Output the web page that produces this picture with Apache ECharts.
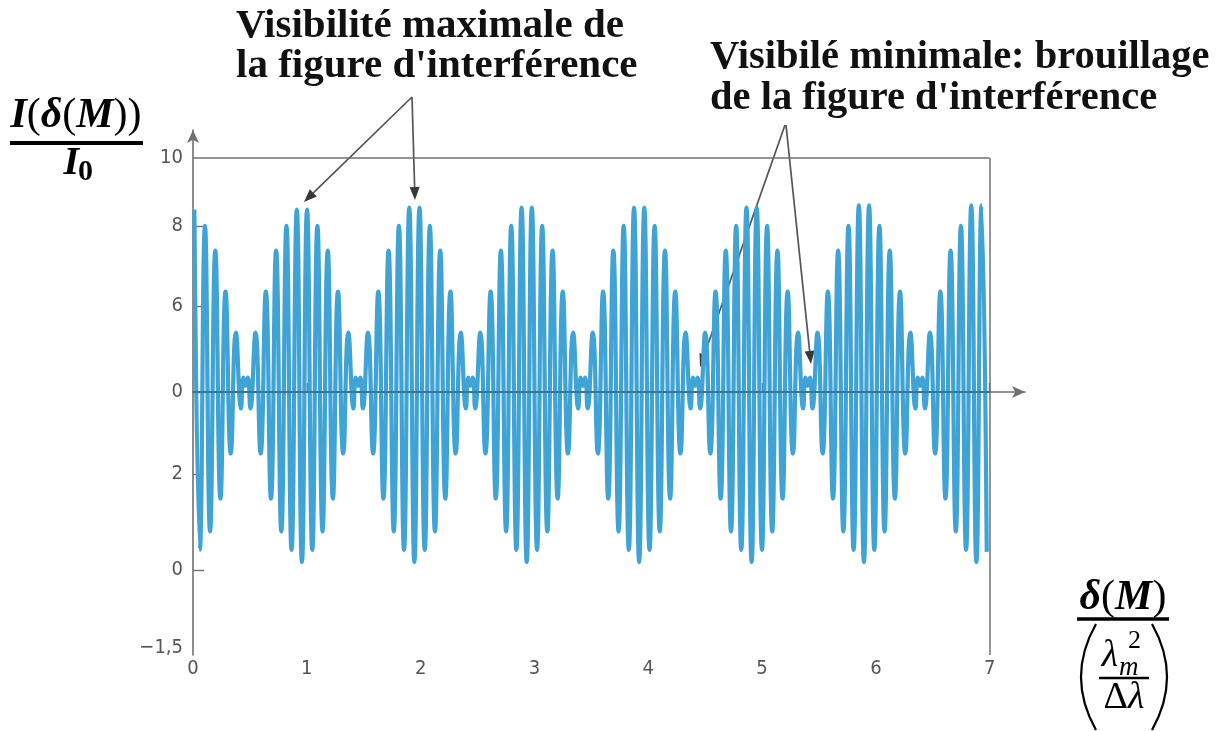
<!DOCTYPE html>
<html lang="fr">
<head>
<meta charset="utf-8">
<title>Visibilité de la figure d'interférence</title>
<script src="https://cdn.jsdelivr.net/npm/echarts@6/dist/echarts.min.js"></script>
<style>
  html, body { margin: 0; padding: 0; background: #fff; }
  #chart { width: 1220px; height: 731px; }
</style>
</head>
<body>
<div id="chart"></div>
<script>
// extrema of the curve, one array per beat
// x : delta(M) / (lambda_m^2 / delta lambda),  y : intensity (figure units, 0 = middle line)
var beat0 = [[0.012, 8.9], [0.060, -7.7], [0.105, 8.1], [0.150, -6.8], [0.196, 6.9], [0.241, -5.2],
  [0.286, 4.9], [0.332, -3.0], [0.377, 2.9], [0.422, -0.8], [0.442, 0.7], [0.462, 0.3], [0.482, 0.7]];
var beat1 = [[0.504, -0.8], [0.549, 2.9], [0.594, -3.0], [0.640, 4.9], [0.685, -5.2], [0.730, 6.9],
  [0.776, -6.8], [0.821, 8.1], [0.866, -7.7], [0.912, 8.9], [0.957, -8.3], [1.002, 8.9], [1.048, -7.7],
  [1.093, 8.1], [1.138, -6.8], [1.184, 6.9], [1.229, -5.2], [1.274, 4.9], [1.320, -3.0], [1.365, 2.9],
  [1.410, -0.8], [1.430, 0.7], [1.450, 0.3], [1.470, 0.7]];
var beat2 = [[1.492, -0.8], [1.537, 2.9], [1.582, -3.0], [1.628, 4.9], [1.673, -5.2], [1.718, 6.9],
  [1.764, -6.8], [1.809, 8.1], [1.854, -7.7], [1.900, 9.0], [1.945, -8.3], [1.990, 9.0], [2.036, -7.7],
  [2.081, 8.1], [2.126, -6.8], [2.172, 6.9], [2.217, -5.2], [2.262, 4.9], [2.308, -3.0], [2.353, 2.9],
  [2.398, -0.8], [2.418, 0.7], [2.438, 0.3], [2.458, 0.7]];
var beat3 = [[2.479, -0.8], [2.524, 2.9], [2.569, -3.0], [2.615, 4.9], [2.660, -5.2], [2.705, 6.9],
  [2.751, -6.8], [2.796, 8.1], [2.841, -7.7], [2.887, 9.0], [2.932, -8.3], [2.977, 9.0], [3.023, -7.7],
  [3.068, 8.1], [3.113, -6.8], [3.159, 6.9], [3.204, -5.2], [3.249, 4.9], [3.295, -3.0], [3.340, 2.9],
  [3.385, -0.8], [3.405, 0.7], [3.425, 0.3], [3.445, 0.7]];
var beat4 = [[3.467, -0.8], [3.512, 2.9], [3.557, -3.0], [3.603, 4.9], [3.648, -5.2], [3.693, 6.9],
  [3.739, -6.8], [3.784, 8.1], [3.829, -7.7], [3.875, 9.0], [3.920, -8.3], [3.965, 9.0], [4.011, -7.7],
  [4.056, 8.1], [4.101, -6.8], [4.147, 6.9], [4.192, -5.2], [4.237, 4.9], [4.283, -3.0], [4.328, 2.9],
  [4.373, -0.8], [4.393, 0.7], [4.413, 0.3], [4.433, 0.7]];
var beat5 = [[4.455, -0.8], [4.500, 2.9], [4.545, -3.0], [4.591, 4.9], [4.636, -5.2], [4.681, 6.9],
  [4.727, -6.8], [4.772, 8.1], [4.817, -7.7], [4.863, 9.0], [4.908, -8.3], [4.953, 9.0], [4.999, -7.7],
  [5.044, 8.1], [5.089, -6.8], [5.135, 6.9], [5.180, -5.2], [5.225, 4.9], [5.271, -3.0], [5.316, 2.9],
  [5.361, -0.8], [5.381, 0.7], [5.401, 0.3], [5.421, 0.7]];
var beat6 = [[5.442, -0.8], [5.487, 2.9], [5.532, -3.0], [5.578, 4.9], [5.623, -5.2], [5.668, 6.9],
  [5.714, -6.8], [5.759, 8.1], [5.804, -7.7], [5.850, 9.1], [5.895, -8.3], [5.940, 9.1], [5.986, -7.7],
  [6.031, 8.1], [6.076, -6.8], [6.122, 6.9], [6.167, -5.2], [6.212, 4.9], [6.258, -3.0], [6.303, 2.9],
  [6.348, -0.8], [6.368, 0.7], [6.388, 0.3], [6.408, 0.7]];
var beat7 = [[6.430, -0.8], [6.475, 2.9], [6.520, -3.0], [6.566, 4.9], [6.611, -5.2], [6.656, 6.9],
  [6.702, -6.8], [6.747, 8.1], [6.792, -7.7], [6.838, 9.1], [6.883, -8.3], [6.928, 9.1], [6.974, -7.8]];

// axis ticks (the printed labels are not evenly spaced on the original figure)
var xTicks = [0, 1, 2, 3, 4, 5, 6, 7];
var yTickValues = [-12.49, -8.68, -4.0, 0, 4.2, 8.1, 11.41];
var yTickLabels = ['\u22121,5', '0', '2', '0', '6', '8', '10'];
var yTickMarks = [-8.68, -4.0, 0, 4.2, 8.1];
var yMin = -12.83, yMax = 12.78, xMax = 7.31, frameTop = 11.41, frameRight = 7;

var curve = [].concat(beat0, beat1, beat2, beat3, beat4, beat5, beat6, beat7);

var chart = echarts.init(document.getElementById('chart'));

var tickFont = "'DejaVu Sans Condensed', 'Liberation Sans Narrow', sans-serif";
var serif = "'Liberation Serif', 'DejaVu Serif', serif";

function arrow(x1, y1, x2, y2) {
  var dx = x2 - x1, dy = y2 - y1, len = Math.sqrt(dx * dx + dy * dy);
  var ux = dx / len, uy = dy / len, hl = 13, hw = 5;
  var bx = x2 - ux * hl, by = y2 - uy * hl;
  return [
    { type: 'line', shape: { x1: x1, y1: y1, x2: bx, y2: by }, style: { stroke: '#555', lineWidth: 1.7 } },
    { type: 'polygon', shape: { points: [[x2, y2], [bx - uy * hw, by + ux * hw], [bx + uy * hw, by - ux * hw]] },
      style: { fill: '#383838' } }
  ];
}

function txt(x, y, text, size, opts) {
  var st = { text: text, x: x, y: y, fontFamily: serif, fontSize: size, fontWeight: 'bold',
    fill: '#111', textAlign: 'left', textVerticalAlign: 'middle' };
  for (var k in opts) st[k] = opts[k];
  return { type: 'text', style: st, z: 10 };
}

var bi = { fontFamily: serif, fontStyle: 'italic', fontWeight: 'bold', fontSize: 42, fill: '#000' };
var up = { fontFamily: serif, fontWeight: 'normal', fontSize: 42, fill: '#000' };

var graphics = [
  txt(236, 26, 'Visibilit\u00e9 maximale de', 41),
  txt(236, 66, "la figure d'interf\u00e9rence", 41),
  txt(710, 58, 'Visibil\u00e9 minimale: brouillage', 40.5),
  txt(710, 99, "de la figure d'interf\u00e9rence", 40.5),

  // y label : I(delta(M)) / I0
  { type: 'text', z: 10, style: { text: '{b|I}{p|(}{b|\u03b4}{p|(}{b|M}{p|))}', x: 76, y: 116,
    textAlign: 'center', textVerticalAlign: 'middle', rich: { b: bi, p: up } } },
  { type: 'line', z: 10, shape: { x1: 10, y1: 143, x2: 143, y2: 143 }, style: { stroke: '#000', lineWidth: 4 } },
  txt(79, 164, 'I', 40, { fontStyle: 'italic', textAlign: 'right', fill: '#000' }),
  txt(78, 172, '0', 30, { fill: '#000' }),

  // x label : delta(M) / (lambda_m^2 / delta lambda)
  { type: 'text', z: 10, style: { text: '{b|\u03b4}{p|(}{b|M}{p|)}', x: 1123, y: 598,
    textAlign: 'center', textVerticalAlign: 'middle', rich: { b: bi, p: up } } },
  { type: 'line', z: 10, shape: { x1: 1077, y1: 619, x2: 1169, y2: 619 }, style: { stroke: '#000', lineWidth: 3.5 } },
  { type: 'bezierCurve', z: 10, shape: { x1: 1096, y1: 624, x2: 1096, y2: 730, cpx1: 1066, cpy1: 677 },
    style: { stroke: '#000', lineWidth: 2.2, fill: null } },
  { type: 'bezierCurve', z: 10, shape: { x1: 1152, y1: 624, x2: 1152, y2: 730, cpx1: 1182, cpy1: 677 },
    style: { stroke: '#000', lineWidth: 2.2, fill: null } },
  txt(1110, 656, '\u03bb', 38, { fontStyle: 'italic', fontWeight: 'normal', textAlign: 'center', fill: '#000' }),
  txt(1119, 668, 'm', 27, { fontStyle: 'italic', fontWeight: 'normal', fill: '#000' }),
  txt(1128, 641, '2', 26, { fontWeight: 'normal', fill: '#000' }),
  { type: 'line', z: 10, shape: { x1: 1099, y1: 678, x2: 1149, y2: 678 }, style: { stroke: '#000', lineWidth: 2.5 } },
  { type: 'text', z: 10, style: { text: '{n|\u0394}{i|\u03bb}', x: 1124, y: 698, textAlign: 'center',
    textVerticalAlign: 'middle', rich: {
      n: { fontFamily: serif, fontSize: 38, fill: '#000' },
      i: { fontFamily: serif, fontSize: 38, fontStyle: 'italic', fill: '#000' } } } }
];
graphics = graphics.concat(arrow(412, 97, 304, 202), arrow(412, 97, 415, 200),
  arrow(785, 125, 700, 367), arrow(786, 125, 811, 364));

chart.setOption({
  animation: false,
  backgroundColor: '#fff',
  grid: { left: 193, right: 195, top: 130, bottom: 76 },
  xAxis: {
    type: 'value', min: 0, max: xMax,
    axisLine: { lineStyle: { color: '#707070', width: 1.6 }, symbol: ['none', 'arrow'], symbolSize: [9, 13] },
    axisTick: { inside: true, length: 9, customValues: xTicks.slice(1), lineStyle: { color: '#707070', width: 1.4 } },
    axisLabel: { customValues: xTicks, color: '#555', fontFamily: tickFont, fontSize: 20, margin: 4 },
    splitLine: { show: false }
  },
  yAxis: {
    type: 'value', min: yMin, max: yMax,
    axisLine: { lineStyle: { color: '#707070', width: 1.6 }, symbol: ['none', 'arrow'], symbolSize: [9, 13] },
    axisTick: { inside: true, length: 11, customValues: yTickMarks, lineStyle: { color: '#707070', width: 1.4 } },
    axisLabel: {
      customValues: yTickValues, color: '#555', fontFamily: tickFont, fontSize: 20, margin: 10,
      formatter: function (v) {
        for (var i = 0; i < yTickValues.length; i++) {
          if (Math.abs(v - yTickValues[i]) < 0.005) return yTickLabels[i];
        }
        return '';
      }
    },
    splitLine: { show: false }
  },
  series: [{
    type: 'line',
    data: curve,
    smooth: 0.5,
    showSymbol: false,
    lineStyle: { color: '#3fa3d6', width: 4.2 },
    silent: true,
    markLine: {
      silent: true,
      symbol: 'none',
      label: { show: false },
      lineStyle: { color: '#707070', width: 1.5, type: 'solid' },
      data: [
        [{ coord: [0, frameTop] }, { coord: [frameRight, frameTop] }],
        [{ coord: [frameRight, yMin] }, { coord: [frameRight, frameTop] }],
        [{ coord: [0, 0], lineStyle: { color: '#33789a', width: 2 } }, { coord: [frameRight, 0] }]
      ]
    }
  }],
  graphic: graphics
});
</script>
</body>
</html>
